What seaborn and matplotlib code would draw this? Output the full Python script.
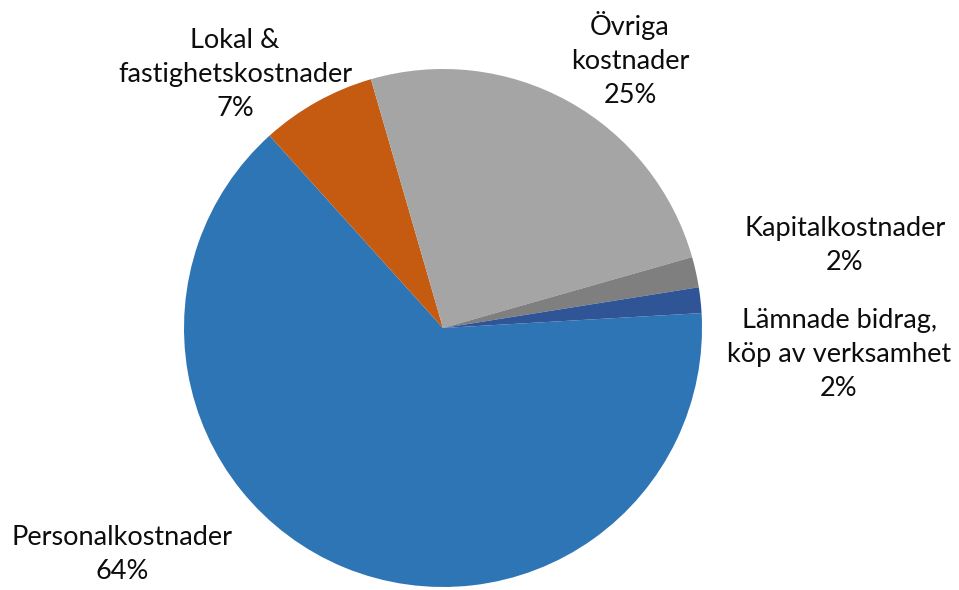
import matplotlib
matplotlib.use("Agg")
import matplotlib.pyplot as plt
import seaborn as sns

# Cost breakdown (share of total, %)
categories = [
    "Personalkostnader",
    "Lokal &\nfastighetskostnader",
    "Övriga\nkostnader",
    "Kapitalkostnader",
    "Lämnade bidrag,\nköp av verksamhet",
]
values = [64.3, 7.2, 25.1, 1.9, 1.6]
colors = ["#2E75B6", "#C55A11", "#A5A5A5", "#7F7F7F", "#2F5597"]

# Label anchor points in pie units (radius = 1)
label_pos = [(-1.239, -0.876), (-0.803, 0.977), (0.722, 1.035),
             (1.552, 0.319), (1.529, -0.104)]

sns.set_theme(style="white")
plt.rcParams["font.family"] = ["Lato", "DejaVu Sans"]

fig = plt.figure(figsize=(9.59, 5.90), dpi=100)
ax = fig.add_axes([(443 - 259) / 959, 3 / 590, 518 / 959, 518 / 590])

ax.pie(values, colors=sns.color_palette(colors), startangle=3.3,
       counterclock=False, radius=1.0,
       wedgeprops=dict(linewidth=0, antialiased=True))
ax.set_xlim(-1, 1)
ax.set_ylim(-1, 1)
ax.set_aspect("equal")
ax.axis("off")

total = sum(values)
for name, v, (x, y) in zip(categories, values, label_pos):
    ax.text(x, y, f"{name}\n{v / total * 100:.0f}%", ha="center", va="center",
            fontsize=19.5, color="#0d0d0d", linespacing=1.45)

fig.savefig("out.png", dpi=100)
